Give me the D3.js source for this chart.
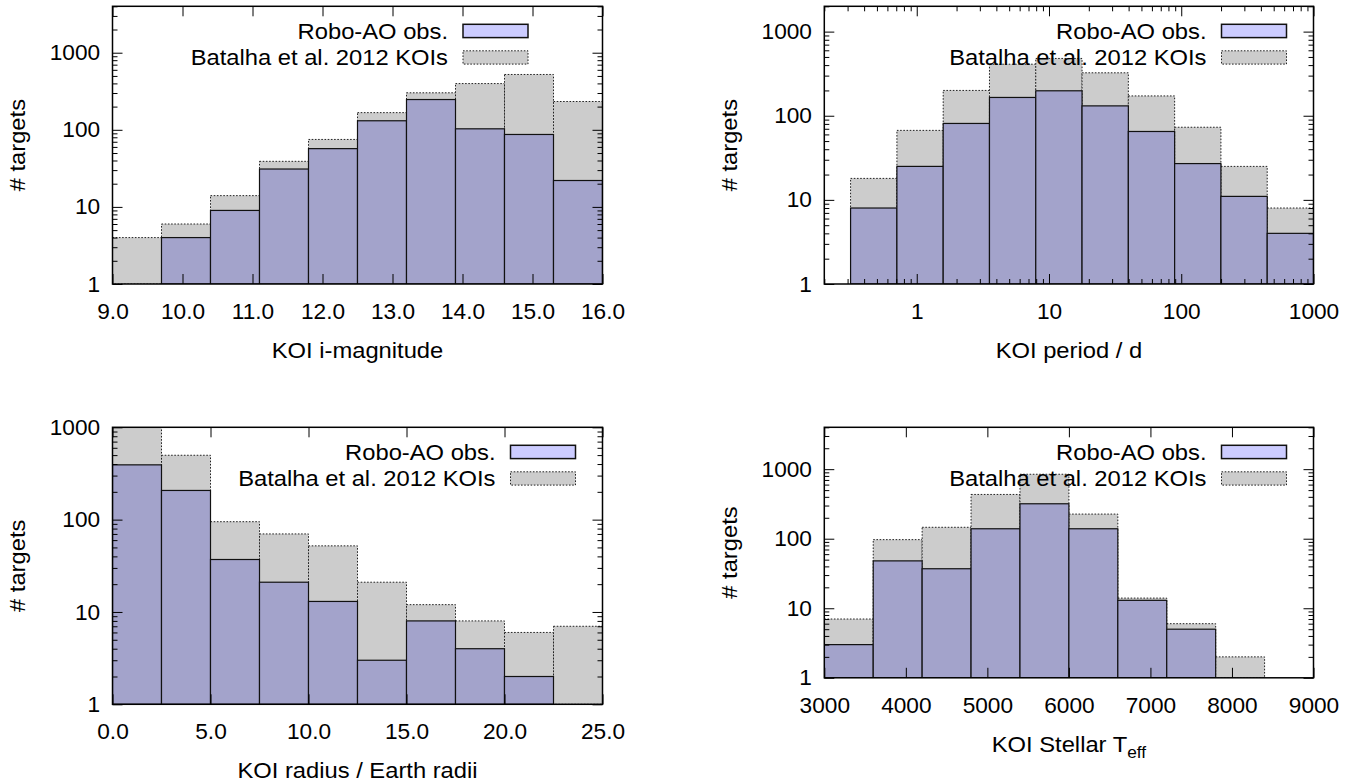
<!DOCTYPE html>
<html>
<head>
<meta charset="utf-8">
<script src="https://cdn.jsdelivr.net/npm/d3@7"></script>
<style>
  body { margin: 0; background: #fff; }
  svg { display: block; }
</style>
</head>
<body>
<svg id="chart" width="1360" height="784"></svg>
<script>
// ---- data ----
const legendLabels = ["Robo-AO obs.", "Batalha et al. 2012 KOIs"];
const countTicks = [1, 10, 100, 1000];

// KOI i-magnitude
const magBins = [9.0, 9.7, 10.4, 11.1, 11.8, 12.5, 13.2, 13.9, 14.6, 15.3, 16.0];
const magRobo = [0, 4, 9, 31, 57, 131, 247, 103, 87, 22];
const magKoi  = [4, 6, 14, 39, 75, 167, 302, 398, 522, 233];
const magTicks = [9, 10, 11, 12, 13, 14, 15, 16];

// KOI period / d  (log bins)
const perBins = [0.316, 0.708, 1.585, 3.548, 7.943, 17.78, 39.81, 89.13, 199.5, 446.7, 1000];
const perRobo = [8, 25, 81, 165, 198, 131, 65, 27, 11, 4];
const perKoi  = [18, 67, 200, 410, 480, 324, 172, 73, 25, 8];
const perTicks = [1, 10, 100, 1000];

// KOI radius / Earth radii
const radBins = [0, 2.5, 5, 7.5, 10, 12.5, 15, 17.5, 20, 22.5, 25];
const radRobo = [392, 207, 37, 21, 13, 3, 8, 4, 2, 0];
const radKoi  = [1000, 498, 95, 70, 52, 21, 12, 8, 6, 7];
const radTicks = [0, 5, 10, 15, 20, 25];

// KOI stellar Teff
const teffBins = [3000, 3600, 4200, 4800, 5400, 6000, 6600, 7200, 7800, 8400];
const teffRobo = [3, 48, 37, 139, 318, 139, 13, 5, 0];
const teffKoi  = [7, 97, 146, 433, 845, 226, 14, 6, 2];
const teffTicks = [3000, 4000, 5000, 6000, 7000, 8000, 9000];

// ---- styling ----
const FONT = "'Liberation Sans', Arial, Helvetica, sans-serif";
const FS = 22;
const TXT_SX = 1.08;   // the figure's text runs slightly wide
const NUM_SX = 1.03;
const ROBO_FILL = "#a3a3cb";
const ROBO_KEY = "#ccccff";
const KOI_FILL = "#cccccc";

const svg = d3.select("#chart");
svg.append("rect").attr("width", 1360).attr("height", 784).attr("fill", "#fff");

const panels = [
  { id: "p1", left: 112.5, top: 6.3, w: 490, h: 277.7, xlog: false, xdom: [9, 16], ymax: 4000,
    bins: magBins, robo: magRobo, koi: magKoi, ticks: magTicks, fmt: d3.format(".1f"),
    keyInset: 74.5, ylabX: 25, xlabel: "KOI i-magnitude" },
  { id: "p2", left: 824.3, top: 6.3, w: 489.2, h: 277.7, xlog: true, xdom: [0.2, 1000], ymax: 2000,
    bins: perBins, robo: perRobo, koi: perKoi, ticks: perTicks, fmt: d3.format("d"),
    keyInset: 27, ylabX: 737, xlabel: "KOI period / d" },
  { id: "p3", left: 112.5, top: 427.3, w: 490, h: 277, xlog: false, xdom: [0, 25], ymax: 1000,
    bins: radBins, robo: radRobo, koi: radKoi, ticks: radTicks, fmt: d3.format(".1f"),
    keyInset: 27, ylabX: 25, xlabel: "KOI radius / Earth radii" },
  { id: "p4", left: 824.3, top: 427.3, w: 489.2, h: 250.5, xlog: false, xdom: [3000, 9000], ymax: 4000,
    bins: teffBins, robo: teffRobo, koi: teffKoi, ticks: teffTicks, fmt: d3.format("d"),
    keyInset: 27, ylabX: 737, xlabel: "KOI Stellar T", sub: "eff" }
];

function styleAxis(sel) {
  sel.select(".domain").remove();
  sel.selectAll("line").attr("stroke", "#000").attr("stroke-width", 1);
  sel.attr("font-size", FS).attr("font-family", FONT);
  sel.selectAll("text").attr("fill", "#000");
}

function drawPanel(p) {
  const g = svg.append("g").attr("transform", `translate(${p.left},${p.top})`);

  const x = (p.xlog ? d3.scaleLog() : d3.scaleLinear()).domain(p.xdom).range([0, p.w]);
  const y = d3.scaleLog().domain([1, p.ymax]).range([p.h, 0]);

  g.append("clipPath").attr("id", "clip-" + p.id)
    .append("rect").attr("width", p.w).attr("height", p.h);

  const plot = g.append("g").attr("clip-path", `url(#clip-${p.id})`);

  // gray KOI histogram first, then Robo-AO on top
  const koiBars = p.koi.map((v, i) => ({ x0: p.bins[i], x1: p.bins[i + 1], v })).filter(d => d.v > 0);
  const roboBars = p.robo.map((v, i) => ({ x0: p.bins[i], x1: p.bins[i + 1], v })).filter(d => d.v > 0);

  plot.selectAll("rect.koi")
    .data(koiBars)
    .enter()
    .append("rect")
    .attr("class", "koi")
    .attr("x", d => x(d.x0))
    .attr("width", d => x(d.x1) - x(d.x0))
    .attr("y", d => y(d.v))
    .attr("height", d => p.h - y(d.v))
    .attr("fill", KOI_FILL)
    .attr("stroke", "#222")
    .attr("stroke-width", 1)
    .attr("stroke-dasharray", "1.6,1.6");

  plot.selectAll("rect.robo")
    .data(roboBars)
    .enter()
    .append("rect")
    .attr("class", "robo")
    .attr("x", d => x(d.x0))
    .attr("width", d => x(d.x1) - x(d.x0))
    .attr("y", d => y(d.v))
    .attr("height", d => p.h - y(d.v))
    .attr("fill", ROBO_FILL)
    .attr("stroke", "#111")
    .attr("stroke-width", 1.2);

  // ticks, mirrored on all four sides, pointing inward
  const yMinor = y.ticks().filter(v => !countTicks.includes(v));
  const xMinor = p.xlog ? x.ticks().filter(v => !p.ticks.includes(v)) : [];

  const bottom = g.append("g").attr("transform", `translate(0,${p.h})`)
    .call(d3.axisBottom(x).tickValues(p.ticks).tickSize(-10).tickPadding(19.4).tickFormat(p.fmt));
  styleAxis(bottom);
  bottom.selectAll("text").attr("transform", `scale(${NUM_SX},1)`);

  g.append("g").attr("transform", `translate(0,${p.h})`)
    .call(d3.axisBottom(x).tickValues(xMinor).tickSize(-5).tickFormat(""))
    .call(styleAxis);
  g.append("g")
    .call(d3.axisTop(x).tickValues(p.ticks).tickSize(-10).tickFormat(""))
    .call(styleAxis);
  g.append("g")
    .call(d3.axisTop(x).tickValues(xMinor).tickSize(-5).tickFormat(""))
    .call(styleAxis);

  const left = g.append("g")
    .call(d3.axisLeft(y).tickValues(countTicks).tickSize(-10).tickPadding(12).tickFormat(d3.format("d")));
  styleAxis(left);
  left.selectAll("text").attr("transform", `scale(${NUM_SX},1)`);

  g.append("g")
    .call(d3.axisLeft(y).tickValues(yMinor).tickSize(-5).tickFormat(""))
    .call(styleAxis);
  g.append("g").attr("transform", `translate(${p.w},0)`)
    .call(d3.axisRight(y).tickValues(countTicks).tickSize(-10).tickFormat(""))
    .call(styleAxis);
  g.append("g").attr("transform", `translate(${p.w},0)`)
    .call(d3.axisRight(y).tickValues(yMinor).tickSize(-5).tickFormat(""))
    .call(styleAxis);

  // frame
  g.append("rect")
    .attr("width", p.w)
    .attr("height", p.h)
    .attr("fill", "none")
    .attr("stroke", "#000")
    .attr("stroke-width", 1.5);

  // key
  const swW = 65, swH = 13.3;
  const swX = p.w - p.keyInset - swW;
  const rows = [18, 44.5];
  legendLabels.forEach((lab, i) => {
    g.append("rect")
      .attr("x", swX)
      .attr("y", rows[i])
      .attr("width", swW)
      .attr("height", swH)
      .attr("fill", i === 0 ? ROBO_KEY : KOI_FILL)
      .attr("stroke", i === 0 ? "#111" : "#222")
      .attr("stroke-width", i === 0 ? 1.5 : 1)
      .attr("stroke-dasharray", i === 0 ? null : "1.6,1.6");
    g.append("text")
      .attr("transform", `translate(${swX - 15},${rows[i] + swH / 2 + 8}) scale(${TXT_SX},1)`)
      .attr("text-anchor", "end")
      .attr("font-family", FONT)
      .attr("font-size", FS)
      .attr("fill", "#000")
      .text(lab);
  });

  // axis titles
  g.append("text")
    .attr("transform", `translate(${p.ylabX - p.left},${p.h / 2}) rotate(-90) scale(${TXT_SX},1)`)
    .attr("text-anchor", "middle")
    .attr("font-family", FONT)
    .attr("font-size", FS)
    .attr("fill", "#000")
    .text("# targets");

  const xl = g.append("text")
    .attr("transform", `translate(${p.w / 2},${p.h + 74}) scale(${TXT_SX},1)`)
    .attr("text-anchor", "middle")
    .attr("font-family", FONT)
    .attr("font-size", FS)
    .attr("fill", "#000")
    .text(p.xlabel);
  if (p.sub) {
    xl.append("tspan")
      .attr("font-size", 16)
      .attr("dy", 6)
      .text(p.sub);
  }
}

panels.forEach(drawPanel);
</script>
</body>
</html>
